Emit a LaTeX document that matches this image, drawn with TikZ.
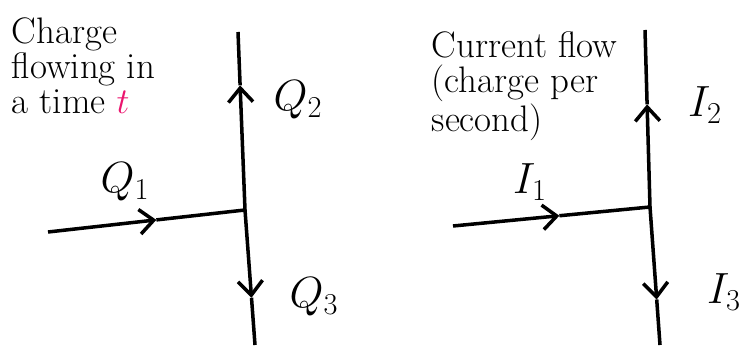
\documentclass[tikz,border=0pt]{standalone}
\usetikzlibrary{arrows.meta,calc}
\definecolor{tpink}{RGB}{235,20,110}

\begin{document}
\begin{tikzpicture}[x=0.02cm,y=-0.02cm,line width=2pt,
    >={Straight Barb[length=8pt,width=14pt]},
    note/.style={align=left,font=\fontsize{21}{20}\selectfont,inner sep=0pt},
    lbl/.style={font=\fontsize{24}{26}\selectfont}]
  \useasboundingbox (0,0) rectangle (743,354);
  % charge in a time t
  \coordinate (Jq) at (245,210);
  \coordinate (Tq) at (238,32);
  \coordinate (Bq) at (255,345);
  \coordinate (Lq) at (48,232);
  \coordinate (Aq1) at ($(Lq)!0.55!(Jq)$);
  \coordinate (Aq2) at ($(Jq)!0.70!(Tq)$);
  \coordinate (Aq3) at ($(Jq)!0.65!(Bq)$);
  \draw[->] (Lq) -- (Aq1);
  \draw (Aq1) -- (Jq);
  \draw[->] (Jq) -- (Aq2);
  \draw (Aq2) -- (Tq);
  \draw[->] (Jq) -- (Aq3);
  \draw (Aq3) -- (Bq);
  \node[note,anchor=north west] (charge) at (10,16) {Charge\\ flowing in\\ a time \textcolor{tpink}{$t$}};
  \node[lbl] (Q1) at (125,182) {$Q_1$};
  \node[lbl] (Q2) at (298,100) {$Q_2$};
  \node[lbl] (Q3) at (314,297) {$Q_3$};
  % current, charge per second
  \coordinate (Ji) at (650,207);
  \coordinate (Ti) at (645,30);
  \coordinate (Bi) at (660,345);
  \coordinate (Li) at (453,226);
  \coordinate (Ai1) at ($(Li)!0.54!(Ji)$);
  \coordinate (Ai2) at ($(Ji)!0.58!(Ti)$);
  \coordinate (Ai3) at ($(Ji)!0.67!(Bi)$);
  \draw[->] (Li) -- (Ai1);
  \draw (Ai1) -- (Ji);
  \draw[->] (Ji) -- (Ai2);
  \draw (Ai2) -- (Ti);
  \draw[->] (Ji) -- (Ai3);
  \draw (Ai3) -- (Bi);
  \node[note,anchor=north west] (current) at (430,30) {Current flow\\ (charge per\\ second)};
  \node[lbl] (I1) at (530,182) {$I_1$};
  \node[lbl] (I2) at (705,105) {$I_2$};
  \node[lbl] (I3) at (724,292) {$I_3$};
\end{tikzpicture}
\end{document}
